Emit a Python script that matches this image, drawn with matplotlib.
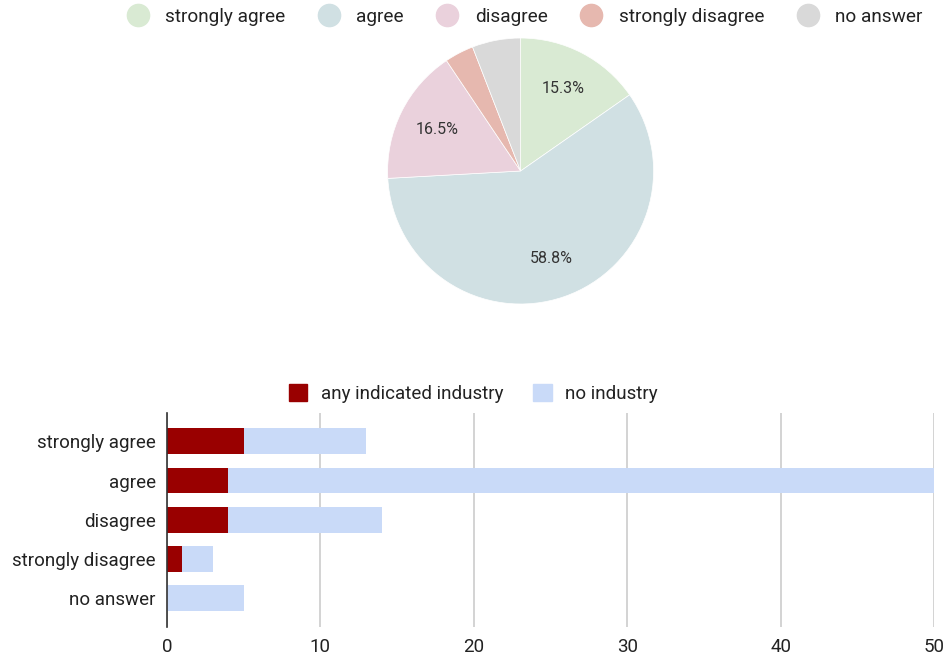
import matplotlib.pyplot as plt
from matplotlib.lines import Line2D
from matplotlib.patches import Patch

plt.rcParams['font.family'] = ['Roboto', 'DejaVu Sans']

answers = ['strongly agree', 'agree', 'disagree', 'strongly disagree', 'no answer']
industry = [5, 4, 4, 1, 0]
no_industry = [8, 46, 10, 2, 5]
totals = [a + b for a, b in zip(industry, no_industry)]

pie_colors = ['#d9ead3', '#d0e0e3', '#ead1dc', '#e6b8af', '#d9d9d9']
bar_colors = ['#990000', '#c9daf8']

fig = plt.figure(figsize=(9.5, 6.59), dpi=100)

# ---- pie ----
ax1 = fig.add_axes([0.408, 0.5387, 0.28, 0.4036])
wedges, texts, autotexts = ax1.pie(
    totals, colors=pie_colors, startangle=90, counterclock=False,
    autopct=lambda p: f'{p:.1f}%' if p > 10 else '', pctdistance=0.7,
    wedgeprops=dict(linewidth=0.5, edgecolor='white'),
    textprops=dict(fontsize=11.5, color='#333333'))
ax1.set_xlim(-1, 1)
ax1.set_ylim(-1, 1)
ax1.set_aspect('equal')

handles = [Line2D([], [], marker='o', linestyle='', markersize=16,
                  markerfacecolor=c, markeredgecolor=c) for c in pie_colors]
fig.legend(handles, answers, loc='center', bbox_to_anchor=(0.548, 0.974),
           ncol=5, frameon=False, fontsize=13.7, handletextpad=0.45,
           columnspacing=1.28, labelcolor='#222222')

# ---- stacked bars ----
ax2 = fig.add_axes([0.1758, 0.0486, 0.8074, 0.3247])
y = range(len(answers))
ax2.barh(y, industry, height=0.66, color=bar_colors[0], zorder=3)
ax2.barh(y, no_industry, left=industry, height=0.66, color=bar_colors[1], zorder=3)
ax2.set_yticks(list(y))
ax2.set_yticklabels(answers)
ax2.set_ylim(4.73, -0.72)
ax2.set_xlim(0, 50)
ax2.set_xticks([0, 10, 20, 30, 40, 50])
ax2.grid(axis='x', color='#cccccc', linewidth=1.2, zorder=0)
for s in ['top', 'right', 'bottom']:
    ax2.spines[s].set_visible(False)
ax2.spines['left'].set_color('#333333')
ax2.spines['left'].set_linewidth(1.2)
ax2.spines['left'].set_zorder(4)
ax2.tick_params(length=0, labelsize=13.5, labelcolor='#222222', pad=8)

bar_handles = [Patch(facecolor=c, edgecolor=c) for c in bar_colors]
fig.legend(bar_handles, ['any indicated industry', 'no industry'], loc='center',
           bbox_to_anchor=(0.498, 0.403), ncol=2, frameon=False, fontsize=13.5,
           handlelength=1.0, handleheight=1.0, handletextpad=0.7,
           columnspacing=1.6, labelcolor='#222222')

fig.savefig('out.png', dpi=100)
